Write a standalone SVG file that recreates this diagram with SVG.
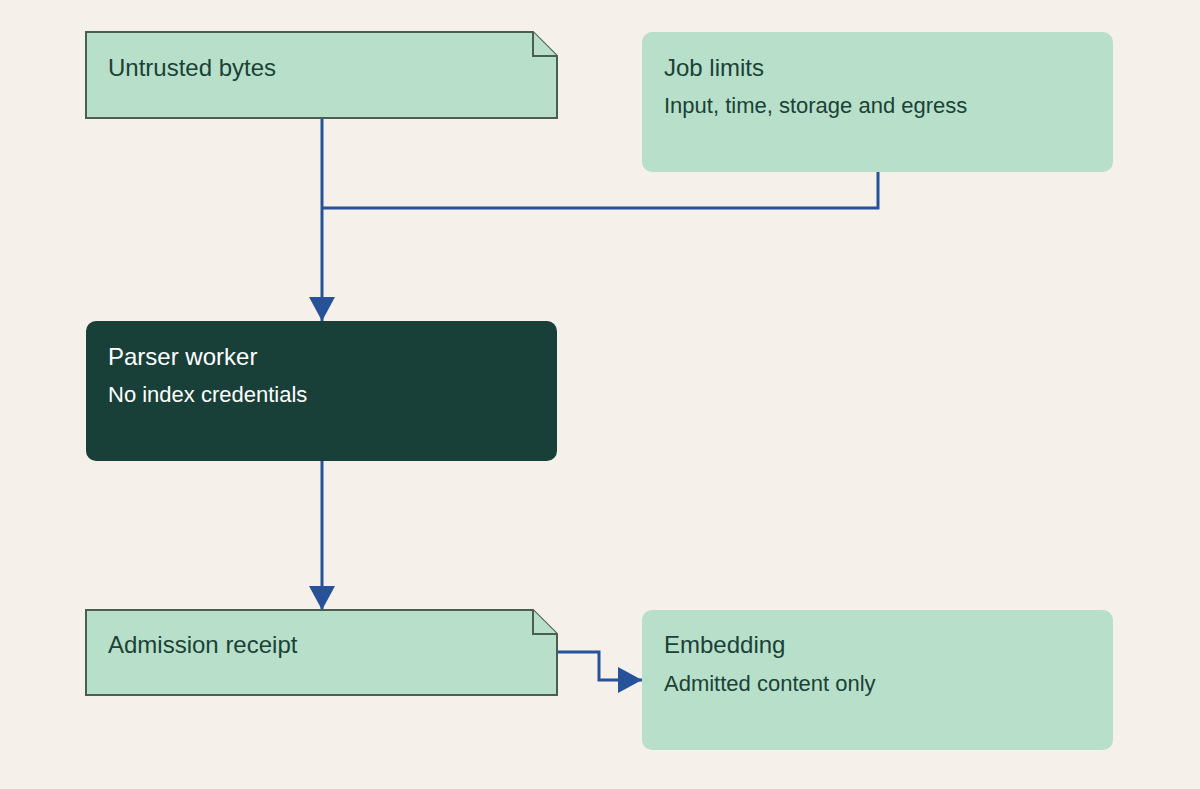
<svg xmlns="http://www.w3.org/2000/svg" width="1200" height="789" viewBox="0 0 1200 789">
<style>
.light{fill:#b8dfc9}
.note{fill:#b8dfc9;stroke:#4a5e52;stroke-width:2}
.t{font-family:"Liberation Sans",Arial,sans-serif;font-size:24px;fill:#1a4237}
.s{font-family:"Liberation Sans",Arial,sans-serif;font-size:22px;fill:#1a4237}
.w{fill:#ffffff}
.c{fill:none;stroke:#27529a;stroke-width:3}
</style>
<defs>
<marker id="a" markerWidth="24" markerHeight="26" refX="24" refY="13" orient="auto" markerUnits="userSpaceOnUse">
<path d="M0,0 L24,13 L0,26 Z" fill="#27529a"/>
</marker>
</defs>
<rect width="1200" height="789" fill="#f5f1ea"/>
<g id="connectors">
<path class="c" d="M322,118 V321" marker-end="url(#a)"/>
<path class="c" d="M878,172 V208 H322"/>
<path class="c" d="M322,461 V610" marker-end="url(#a)"/>
<path class="c" d="M557,652 H599 V680 H642" marker-end="url(#a)"/>
</g>
<g id="untrusted">
<path class="note" d="M86,32 H533 L557,56 V118 H86 Z"/>
<path class="note" d="M533,32 V56 H557"/>
<text class="t" x="108" y="76">Untrusted bytes</text>
</g>
<g id="joblimits">
<rect class="light" x="642" y="32" width="471" height="140" rx="10"/>
<text class="t" x="664" y="76">Job limits</text>
<text class="s" x="664" y="113">Input, time, storage and egress</text>
</g>
<g id="parser">
<rect x="86" y="321" width="471" height="140" rx="10" fill="#184038"/>
<text class="t w" x="108" y="365">Parser worker</text>
<text class="s w" x="108" y="402">No index credentials</text>
</g>
<g id="receipt">
<path class="note" d="M86,610 H533 L557,634 V695 H86 Z"/>
<path class="note" d="M533,610 V634 H557"/>
<text class="t" x="108" y="653">Admission receipt</text>
</g>
<g id="embedding">
<rect class="light" x="642" y="610" width="471" height="140" rx="10"/>
<text class="t" x="664" y="653">Embedding</text>
<text class="s" x="664" y="691">Admitted content only</text>
</g>
</svg>
